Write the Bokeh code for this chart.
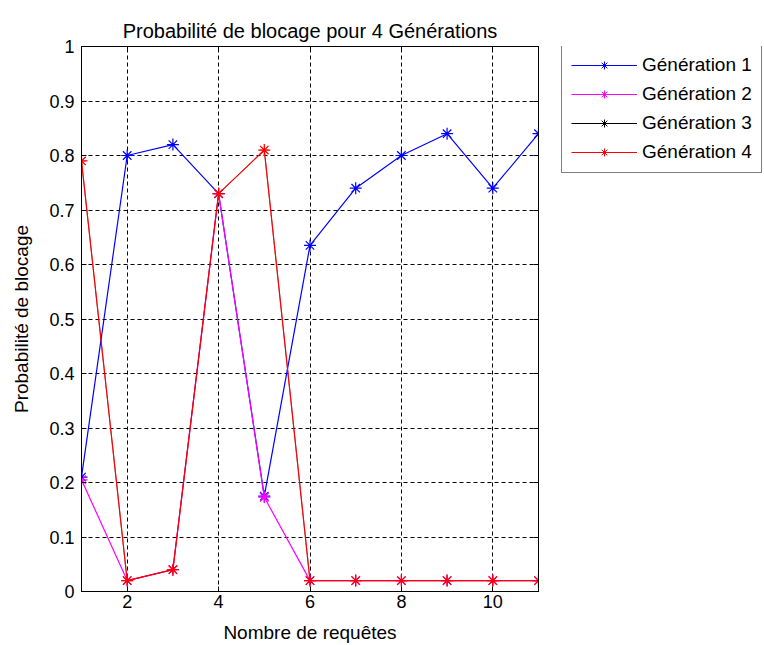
from bokeh.plotting import figure
from bokeh.layouts import row
from bokeh.models import Range1d, FixedTicker, LinearAxis, Legend, LegendItem
from bokeh.embed import file_html
from bokeh.resources import INLINE

# ---- data ----
requetes = [1, 2, 3, 4, 5, 6, 7, 8, 9, 10, 11]
gen1 = [0.21, 0.80, 0.82, 0.73, 0.175, 0.635, 0.74, 0.80, 0.84, 0.74, 0.84]
gen2 = [0.205, 0.02, 0.04, 0.73, 0.173, 0.02, 0.02, 0.02, 0.02, 0.02, 0.02]
gen3 = [0.79, 0.02, 0.04, 0.73, 0.81, 0.02, 0.02, 0.02, 0.02, 0.02, 0.02]
gen4 = [0.79, 0.02, 0.04, 0.73, 0.81, 0.02, 0.02, 0.02, 0.02, 0.02, 0.02]
series_names = ["Génération 1", "Génération 2", "Génération 3", "Génération 4"]
series_colors = ["#0000FF", "#FF00FF", "#000000", "#FF0000"]
x_ticks = [2, 4, 6, 8, 10]
y_ticks = [0, 0.1, 0.2, 0.3, 0.4, 0.5, 0.6, 0.7, 0.8, 0.9, 1]
y_tick_labels = ["0", "0.1", "0.2", "0.3", "0.4", "0.5", "0.6", "0.7", "0.8", "0.9", "1"]

FONT = "Liberation Sans"

p = figure(width=548, height=645, output_backend="svg", toolbar_location=None,
           x_range=Range1d(1, 11), y_range=Range1d(0, 1),
           min_border_left=81, min_border_right=10, min_border_top=46, min_border_bottom=54,
           title="Probabilité de blocage pour 4 Générations")
p.background_fill_color = "white"
p.border_fill_color = "white"
p.outline_line_color = "black"
p.outline_line_width = 1

p.title.text_font = FONT
p.title.text_font_size = "20px"
p.title.text_font_style = "normal"
p.title.align = "center"
p.title.text_color = "black"
p.title.standoff = 9

xt = FixedTicker(ticks=x_ticks)
yt = FixedTicker(ticks=y_ticks)
p.xaxis.ticker = xt
p.yaxis.ticker = yt
p.yaxis.major_label_overrides = {t: l for t, l in zip(y_ticks, y_tick_labels)}

for ax in [p.xaxis[0], p.yaxis[0]]:
    ax.major_tick_in = 5
    ax.major_tick_out = 0
    ax.minor_tick_line_color = None
    ax.axis_line_color = "black"
    ax.major_tick_line_color = "black"
    ax.major_label_text_font = FONT
    ax.major_label_text_font_size = "18px"
    ax.major_label_text_color = "black"
    ax.axis_label_text_font = FONT
    ax.axis_label_text_font_size = "19px"
    ax.axis_label_text_font_style = "normal"
    ax.axis_label_text_color = "black"

p.xaxis.axis_label = "Nombre de requêtes"
p.yaxis.axis_label = "Probabilité de blocage"
p.xaxis.major_label_standoff = 3
p.xaxis.axis_label_standoff = 11
p.yaxis.major_label_standoff = 7
p.yaxis.axis_label_standoff = 14

right_axis = LinearAxis(ticker=yt, major_tick_in=5, major_tick_out=0,
                        minor_tick_line_color=None, axis_line_color="black",
                        major_label_text_color=None, major_label_text_font_size="2px",
                        major_label_standoff=0)
top_axis = LinearAxis(ticker=xt, major_tick_in=5, major_tick_out=0,
                      minor_tick_line_color=None, axis_line_color="black",
                      major_label_text_color=None, major_label_text_font_size="2px",
                      major_label_standoff=0)
p.add_layout(right_axis, "right")
p.add_layout(top_axis, "above")
# keep the top axis next to the frame, the title outside it
p.above = [top_axis] + [r for r in p.above if r is not top_axis]

p.xgrid.ticker = xt
p.ygrid.ticker = yt
p.grid.grid_line_color = "black"
p.grid.grid_line_dash = "4 3"
p.grid.grid_line_width = 1

# legend panel (separate figure beside the plot)
pl = figure(width=216, height=645, output_backend="svg", toolbar_location=None,
            x_range=Range1d(1, 11), y_range=Range1d(0, 1),
            x_axis_type=None, y_axis_type=None,
            min_border=0, min_border_left=0, min_border_right=0,
            min_border_top=0, min_border_bottom=0)
pl.outline_line_color = None
pl.background_fill_color = "white"
pl.border_fill_color = "white"

items = []
for name, color, ys in zip(series_names, series_colors, [gen1, gen2, gen3, gen4]):
    lw = 0.5 if color == "#000000" else 1.2
    sz = 9 if color == "#000000" else 12
    p.line(requetes, ys, line_color=color, line_width=lw)
    p.scatter(requetes, ys, marker="asterisk", size=sz, line_color=color, line_width=lw)
    lr = pl.line(requetes, ys, line_color=color, line_width=1, visible=False)
    sr = pl.scatter(requetes, ys, marker="asterisk", size=10, line_color=color,
                    line_width=1, visible=False)
    items.append(LegendItem(label=name, renderers=[lr, sr]))

legend = Legend(items=items, location=(13, 418))
legend.label_text_font = FONT
legend.label_text_font_size = "19px"
legend.label_text_color = "black"
legend.glyph_width = 66
legend.glyph_height = 20
legend.label_standoff = 5
legend.spacing = 7
legend.padding = 9
legend.margin = 0
legend.border_line_color = "black"
legend.border_line_width = 1
legend.background_fill_color = "white"
legend.background_fill_alpha = 1
legend.inactive_fill_alpha = 0
legend.click_policy = "none"
pl.add_layout(legend, "center")

layout = row(p, pl, spacing=0)
open("out.html", "w").write(file_html(layout, INLINE))
